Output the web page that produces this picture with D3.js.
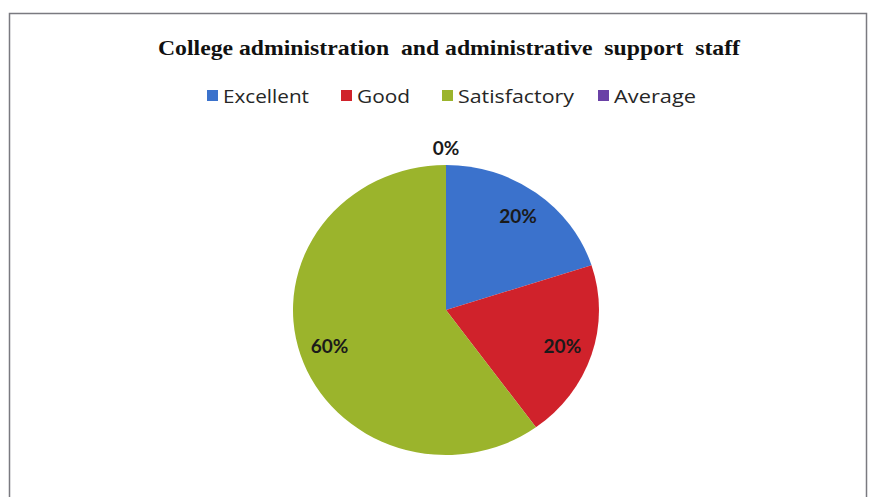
<!DOCTYPE html>
<html>
<head>
<meta charset="utf-8">
<script src="https://cdn.jsdelivr.net/npm/d3@7"></script>
<style>
  html, body { margin: 0; padding: 0; background: #fff; }
  svg { display: block; }
</style>
</head>
<body>
<svg id="chart" width="872" height="497"></svg>
<script>
const titleText = "College administration\u00a0 and administrative\u00a0 support\u00a0 staff";
const categories = ["Excellent", "Good", "Satisfactory", "Average"];
const values = [20, 20, 60, 0];
const colors = ["#3b72cc", "#d0222b", "#9bb42c", "#6a41a6"];

const svg = d3.select("#chart");

// frame
svg.append("rect")
  .attr("x", 9.5).attr("y", 13.5)
  .attr("width", 857).attr("height", 520)
  .attr("fill", "#fff")
  .attr("stroke", "#7a7a80").attr("stroke-width", 1.5);

// title
svg.append("text")
  .attr("x", 449).attr("y", 55)
  .attr("text-anchor", "middle")
  .attr("font-family", "'Liberation Serif', 'Times New Roman', serif")
  .attr("font-weight", "bold")
  .attr("font-size", 21)
  .attr("textLength", 582)
  .attr("lengthAdjust", "spacingAndGlyphs")
  .attr("fill", "#111")
  .text(titleText);

// legend
const legendFont = "'Open Sans', Lato, sans-serif";
const legendX = [207, 341, 442, 598];
const legendW = [86, 53, 116, 82];
const legend = svg.append("g");
categories.forEach((c, i) => {
  const g = legend.append("g").attr("transform", `translate(${legendX[i]},96)`);
  g.append("rect").attr("x", 0).attr("y", -6).attr("width", 11).attr("height", 11).attr("fill", colors[i]);
  g.append("text").attr("x", 16).attr("y", 6.5)
    .attr("font-family", legendFont).attr("font-size", 18.5)
    .attr("font-weight", 500)
    .attr("textLength", legendW[i]).attr("lengthAdjust", "spacingAndGlyphs")
    .attr("fill", "#262626").text(c);
});

// pie
const cx = 446, cy = 310, ry = 145, sx = 153 / 145;
const pie = d3.pie().sort(null).value(d => d.value).startAngle(0).endAngle(2 * Math.PI);
const data = categories.map((c, i) => ({ name: c, value: values[i], color: colors[i] }));
const arcs = pie(data);
const arc = d3.arc().innerRadius(0).outerRadius(ry);
const total = d3.sum(values);

const pg = svg.append("g").attr("transform", `translate(${cx},${cy}) scale(${sx},1)`);
pg.selectAll("path").data(arcs).enter().append("path")
  .attr("d", arc)
  .attr("fill", d => d.data.color);

// labels
const labelArc = d3.arc().innerRadius(ry * 0.8).outerRadius(ry * 0.8);
const outerArc = d3.arc().innerRadius(ry + 17).outerRadius(ry + 17);
svg.append("g").selectAll("text").data(arcs).enter().append("text")
  .attr("transform", d => {
    const p = (d.data.value === 0 ? outerArc : labelArc).centroid(d);
    return `translate(${cx + p[0] * sx},${cy + p[1]})`;
  })
  .attr("text-anchor", "middle")
  .attr("dy", "0.36em")
  .attr("font-family", "Lato, 'Open Sans', sans-serif")
  .attr("font-weight", "bold")
  .attr("font-size", 19)
  .attr("fill", "#1a1a1a")
  .text(d => Math.round(d.data.value / total * 100) + "%");
</script>
</body>
</html>
